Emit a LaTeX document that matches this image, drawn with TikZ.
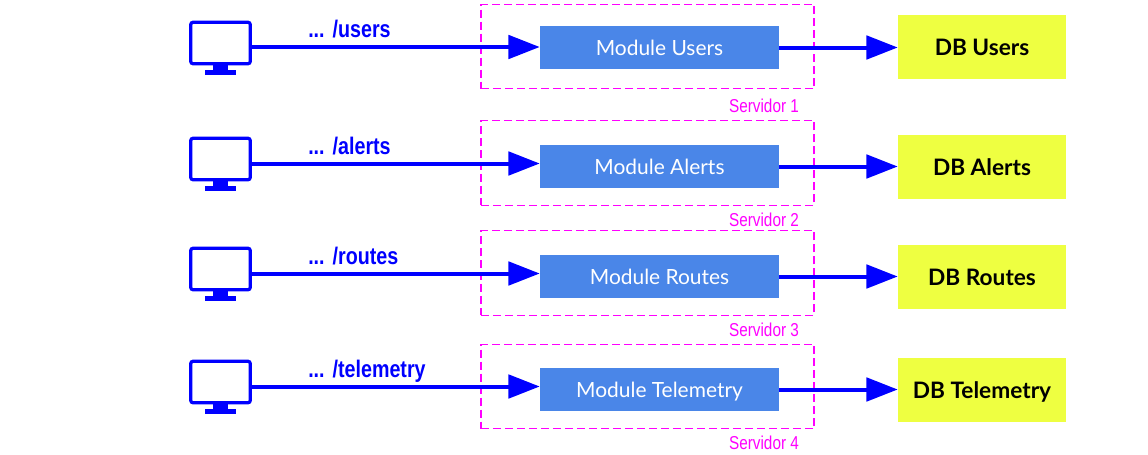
\documentclass[tikz,border=0pt]{standalone}
\usepackage{fontspec}
\usetikzlibrary{arrows.meta}
\setmainfont{Lato}
\newfontfamily\condfont[FakeStretch=0.82]{Liberation Sans}
\definecolor{modblue}{HTML}{4A86E8}
\definecolor{dbyellow}{HTML}{EEFF41}
\definecolor{srvmag}{HTML}{FF00FF}
\definecolor{linkblue}{HTML}{0000FF}
\tikzset{
  x=0.75pt,y=-0.75pt,
  modbox/.style={fill=modblue,text=white,minimum width=179.25pt,minimum height=32.25pt,inner sep=0pt,text height=11.3pt,text depth=0pt,font=\fontsize{15.7}{18}\selectfont},
  dbbox/.style={fill=dbyellow,text=black,minimum width=126pt,minimum height=48pt,inner sep=0pt,text height=12.2pt,text depth=0pt,font=\fontsize{17}{20}\bfseries\selectfont},
  srvbox/.style={draw=srvmag,dash pattern=on 6pt off 3pt,line width=0.85pt,minimum width=249.75pt,minimum height=63.5pt,inner sep=0pt},
  srvlabel/.style={text=srvmag,inner sep=0pt,font=\condfont\fontsize{14}{16}\selectfont},
  pathlabel/.style={text=linkblue,anchor=base west,inner sep=0pt,font=\condfont\fontsize{18}{20}\bfseries\selectfont},
  screen/.style={draw=linkblue,line width=2.4pt,rounded corners=1.5pt,minimum width=44.5pt,minimum height=31pt,inner sep=0pt},
  flow/.style={draw=linkblue,line width=3pt,-{Triangle[length=23.5pt,width=17.5pt]}},
  standpart/.style={fill=linkblue,inner sep=0pt}
}
\begin{document}
\begin{tikzpicture}
\useasboundingbox (0,0) rectangle (1148,454);
\foreach \n/\mody/\dby/\srvy/\mony/\liney/\laby/\sublaby/\name/\ulabel in {
  1/47.5/47/46.5/43/47/37.5/106/Users/users,
  2/166.5/167/163/159/163.5/154.5/220/Alerts/alerts,
  3/276.5/277/273/269/273.5/264.5/330/Routes/routes,
  4/389.5/390/386.5/382/386.5/377.5/443/Telemetry/telemetry}
{
  \node[srvbox] (srv\n) at (647.5,\srvy) {};
  \node[modbox] (mod\n) at (659.5,\mody) {Module \name};
  \node[dbbox] (db\n) at (982,\dby) {DB \name};
  \node[screen] (mon\n) at (220.5,\mony) {};
  \node[standpart,minimum width=11pt,minimum height=4pt] (neck\n) at (220.5,\mony+24) {};
  \node[standpart,minimum width=23pt,minimum height=3.5pt] (base\n) at (220.5,\mony+29.5) {};
  \coordinate (start\n) at (mon\n.east |- 0,\liney);
  \node[pathlabel] (lab\n) at (308,\laby) {...\hspace{6pt}/\ulabel};
  \node[srvlabel] (sub\n) at (764,\sublaby) {Servidor \n};
  \draw[flow] (start\n) -- (start\n -| mod\n.west);
  \draw[flow] (mod\n.east) -- (mod\n.east -| db\n.west);
}
\end{tikzpicture}
\end{document}
